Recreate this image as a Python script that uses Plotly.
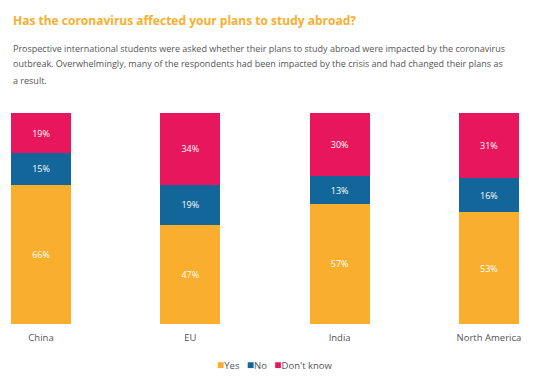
import plotly.graph_objects as go

regions = ["China", "EU", "India", "North America"]
yes_vals = [66, 47, 57, 53]
no_vals = [15, 19, 13, 16]
dk_vals = [19, 34, 30, 31]

series = [
    ("Yes", yes_vals, "#F9AE2E"),
    ("No", no_vals, "#13669A"),
    ("Don't know", dk_vals, "#E8175D"),
]

fig = go.Figure()
for name, vals, color in series:
    fig.add_trace(go.Bar(
        x=regions, y=vals, name=name,
        marker=dict(color=color, line=dict(width=0)),
        width=0.402,
        text=[f"{v}%" for v in vals],
        textposition="inside", insidetextanchor="middle",
        textfont=dict(color="white", size=9, family="Open Sans"),
        hoverinfo="skip",
    ))

title = "Has the coronavirus affected your plans to study abroad?"
sub_lines = [
    "Prospective international students were asked whether their plans to study abroad were impacted by the coronavirus",
    "outbreak. Overwhelmingly, many of the respondents had been impacted by the crisis and had changed their plans as",
    "a result.",
]

plot_top, plot_bottom = 113, 324
ph = plot_bottom - plot_top

def py(ypix):
    return (plot_bottom - ypix) / ph

annotations = [dict(
    text=f"<b>{title}</b>", x=11 / 550, y=py(21), xref="paper", yref="paper",
    showarrow=False, xanchor="left", yanchor="middle",
    font=dict(family="Open Sans", size=12, color="#F9AE2E"),
)]
for i, line in enumerate(sub_lines):
    annotations.append(dict(
        text=line, x=11 / 550, y=py(48 + 16 * i), xref="paper", yref="paper",
        showarrow=False, xanchor="left", yanchor="middle",
        font=dict(family="Open Sans", size=9, color="#555555"),
    ))

legend_text = "&nbsp;&nbsp;&nbsp;".join(
    f"<span style='color:{c};font-size:12px'>■</span>{n}" for n, _, c in series
)
annotations.append(dict(
    text=legend_text, x=0.5, y=py(364), xref="paper", yref="paper",
    showarrow=False, xanchor="center", yanchor="middle",
    font=dict(family="Open Sans", size=9.5, color="#555555"),
))

fig.update_layout(
    barmode="stack",
    width=550, height=378,
    margin=dict(l=0, r=0, t=plot_top, b=378 - plot_bottom),
    paper_bgcolor="white", plot_bgcolor="white",
    font=dict(family="Open Sans", color="#555555"),
    showlegend=False,
    annotations=annotations,
    xaxis=dict(range=[-0.2746, 3.409], showgrid=False, zeroline=False, showline=False,
               ticks="", ticklabelstandoff=6,
               tickfont=dict(size=9.5, color="#555555"), fixedrange=True),
    yaxis=dict(range=[0, 100], visible=False, fixedrange=True),
)

fig.write_html("out.html", post_script="document.body.style.margin='0';",
               config={"displayModeBar": False})
